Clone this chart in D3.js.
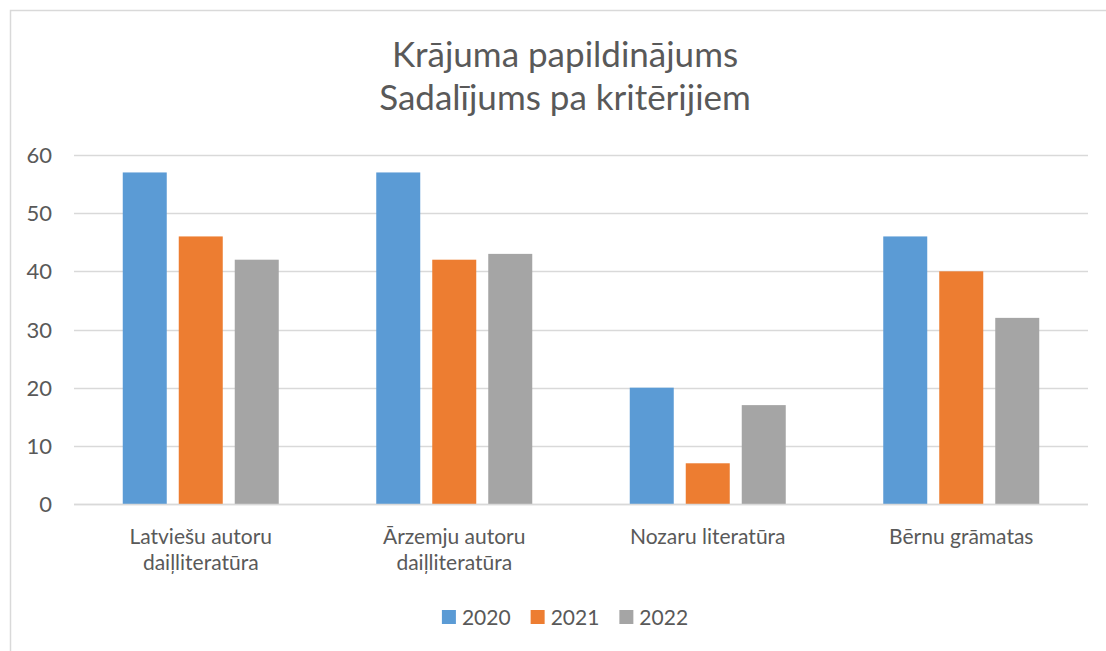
<!DOCTYPE html>
<html>
<head>
<meta charset="utf-8">
<script src="https://cdn.jsdelivr.net/npm/d3@7"></script>
<style>
  body { margin: 0; background: #fff; }
  text { font-family: Lato, "Open Sans", sans-serif; fill: #595959; }
</style>
</head>
<body>
<div id="chart"></div>
<script>
// data
var categories = [["Latviešu autoru", "daiļliteratūra"], ["Ārzemju autoru", "daiļliteratūra"], ["Nozaru literatūra"], ["Bērnu grāmatas"]];
var seriesNames = ["2020", "2021", "2022"];
var values2020 = [57, 57, 20, 46];
var values2021 = [46, 42, 7, 40];
var values2022 = [42, 43, 17, 32];
var yTicks = [0, 10, 20, 30, 40, 50, 60];
var titleLines = ["Krājuma papildinājums", "Sadalījums pa kritērijiem"];
var colors = ["#5b9bd5", "#ed7d31", "#a5a5a5"];

var width = 1106, height = 651;
var plot = {left: 74, right: 1088, top: 155, bottom: 504};

var svg = d3.select("#chart")
    .append("svg")
        .attr("width", width)
        .attr("height", height);

// chart border
svg.append("rect")
    .attr("x", 10.5).attr("y", 10.5)
    .attr("width", 1120).attr("height", 700)
    .attr("fill", "none")
    .attr("stroke", "#d9d9d9")
    .attr("stroke-width", 1.5);

// title
svg.append("g").selectAll("text")
    .data(titleLines)
    .join("text")
        .attr("x", 565)
        .attr("y", (d, i) => 67 + i * 43)
        .attr("text-anchor", "middle")
        .style("font-size", "35px")
        .text(d => d);

var x = d3.scaleBand()
    .domain(d3.range(categories.length))
    .range([plot.left, plot.right]);

var xInner = d3.scaleBand()
    .domain(seriesNames)
    .range([0, 156])
    .paddingInner(12 / 56);

var y = d3.scaleLinear()
    .domain([0, 60])
    .range([plot.bottom, plot.top]);

// gridlines
svg.append("g").selectAll("line")
    .data(yTicks)
    .join("line")
        .attr("x1", plot.left).attr("x2", plot.right)
        .attr("y1", d => Math.round(y(d)) + 0.5)
        .attr("y2", d => Math.round(y(d)) + 0.5)
        .attr("stroke", "#d9d9d9")
        .attr("stroke-width", 1.5);

// y labels
svg.append("g").selectAll("text")
    .data(yTicks)
    .join("text")
        .attr("x", 52)
        .attr("y", d => y(d) + 8)
        .attr("text-anchor", "end")
        .style("font-size", "22px")
        .text(d => d);

var series = [values2020, values2021, values2022];

// bars
series.forEach(function(vals, s) {
    svg.append("g").selectAll("rect")
        .data(vals)
        .join("rect")
            .attr("x", (d, i) => x(i) + (x.bandwidth() - 156) / 2 + xInner(seriesNames[s]))
            .attr("y", d => y(d))
            .attr("width", xInner.bandwidth())
            .attr("height", d => y(0) - y(d))
            .attr("fill", colors[s]);
});

// redraw baseline over bars
svg.append("line")
    .attr("x1", plot.left).attr("x2", plot.right)
    .attr("y1", Math.round(y(0)) + 0.5).attr("y2", Math.round(y(0)) + 0.5)
    .attr("stroke", "#d9d9d9")
    .attr("stroke-width", 1.5);

// category labels
var cat = svg.append("g").selectAll("text")
    .data(categories)
    .join("text")
        .attr("text-anchor", "middle")
        .style("font-size", "21px");

cat.selectAll("tspan")
    .data((d, i) => d.map(t => ({t: t, i: i})))
    .join("tspan")
        .attr("x", d => x(d.i) + x.bandwidth() / 2)
        .attr("y", (d, j) => 544 + j * 26)
        .text(d => d.t);

// legend
var legend = svg.append("g");
var items = legend.selectAll("g")
    .data(seriesNames)
    .join("g");
items.append("rect")
    .attr("width", 14).attr("height", 14)
    .attr("y", 610)
    .attr("fill", (d, i) => colors[i]);
items.append("text")
    .attr("x", 20)
    .attr("y", 625)
    .style("font-size", "21px")
    .text(d => d);

var offset = 0, pos = [];
items.each(function() {
    pos.push(offset);
    offset += this.getBBox().width + 20;
});
var total = offset - 20;
items.attr("transform", (d, i) => "translate(" + (565 - total / 2 + pos[i]) + ",0)");
</script>
</body>
</html>
